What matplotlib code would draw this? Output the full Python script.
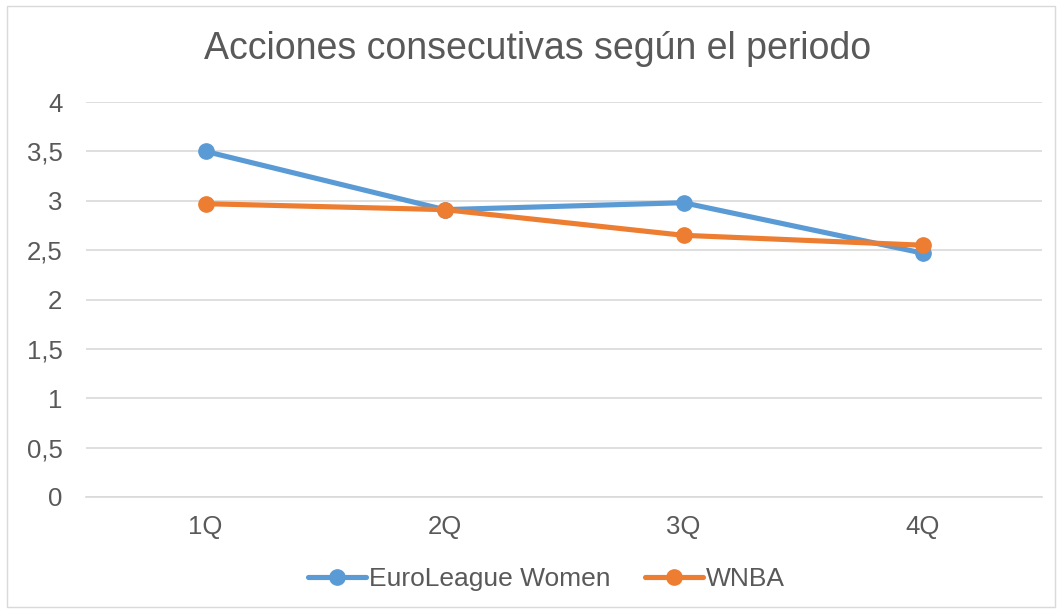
import matplotlib.pyplot as plt
from matplotlib.ticker import FuncFormatter
from matplotlib.patches import Rectangle

plt.rcParams['font.family'] = ['Liberation Sans', 'DejaVu Sans']

periodos = ['1Q', '2Q', '3Q', '4Q']
euroleague = [3.50, 2.91, 2.98, 2.47]
wnba = [2.97, 2.91, 2.65, 2.55]

texto = '#595959'
azul = '#5B9BD5'
naranja = '#ED7D31'

fig = plt.figure(figsize=(10.61, 6.12), dpi=100)
ax = fig.add_axes([86 / 1061, 1 - 497 / 612, 956 / 1061, 395 / 612])

x = range(len(periodos))
ax.plot(x, euroleague, color=azul, lw=3.7, marker='o', ms=11, label='EuroLeague Women', solid_capstyle='round')
ax.plot(x, wnba, color=naranja, lw=3.7, marker='o', ms=11, label='WNBA', solid_capstyle='round')

ax.set_xlim(-0.5, len(periodos) - 0.5)
ax.set_ylim(0, 4)
ax.set_yticks([i * 0.5 for i in range(9)])
ax.yaxis.set_major_formatter(FuncFormatter(lambda v, p: ('%g' % v).replace('.', ',')))
ax.set_xticks(list(x))
ax.set_xticklabels(periodos)
ax.grid(axis='y', color='#D9D9D9', lw=1.2)
ax.set_axisbelow(True)
for s in ['top', 'right', 'left']:
    ax.spines[s].set_visible(False)
ax.spines['bottom'].set_color('#D9D9D9')
ax.spines['bottom'].set_linewidth(1.2)
ax.tick_params(axis='both', length=0, labelsize=18.5, colors=texto)
ax.tick_params(axis='y', pad=17)
ax.tick_params(axis='x', pad=13)

fig.text(0.507, 1 - 49 / 612, 'Acciones consecutivas según el periodo', ha='center', va='center',
         fontsize=27, color=texto)

leg = fig.legend(loc='center', bbox_to_anchor=(0.515, 1 - 579 / 612), ncol=2, frameon=False,
                 fontsize=19, labelcolor=texto, handlelength=2.2, handletextpad=0.1, columnspacing=1.3)

fig.patches.append(Rectangle((7 / 1061, 5 / 612), 1048 / 1061, 601 / 612, transform=fig.transFigure,
                             fill=False, edgecolor='#D9D9D9', lw=1))

fig.savefig('out.png', dpi=100)
